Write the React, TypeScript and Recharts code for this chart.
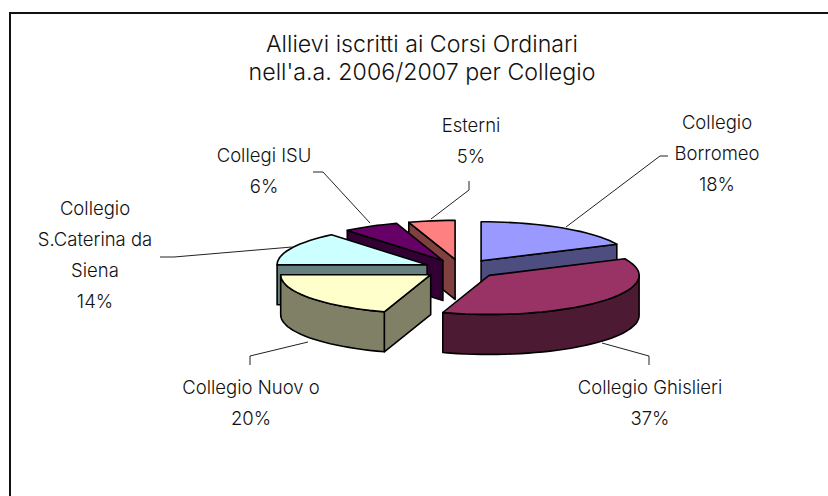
import { PieChart, Pie } from "recharts";

// draw order is back to front, going anticlockwise from Collegio Borromeo
const categories = [
  ["Collegio", "Borromeo"],
  ["Esterni"],
  ["Collegi ISU"],
  ["Collegio", "S.Caterina da", "Siena"],
  ["Collegio Nuov o"],
  ["Collegio Ghislieri"],
];
const shares = [18, 5, 6, 14, 20, 37];
const topColors = ["#9999FF", "#FF8080", "#660066", "#CCFFFF", "#FFFFCC", "#993366"];
const sideColors = ["#4D4D80", "#804040", "#330033", "#668080", "#808066", "#4D1A33"];

const titleLines = ["Allievi iscritti ai Corsi Ordinari", "nell'a.a. 2006/2007 per Collegio"];

const data = categories.map((lines, i) => ({
  name: lines.join(" "),
  value: shares[i],
  lines,
  top: topColors[i],
  side: sideColors[i],
}));

const FONT = "Inter, Lato, sans-serif";

const SQUASH = 0.26;
const DEPTH = 40;
const EXPLODE = 0.25;

// where each label goes and how its leader line runs
const labelLayout = [
  { x: 717, y: 129, leader: "566,227 660,156 668,156" },
  { x: 471, y: 132, leader: "431,219 469,190 469,181" },
  { x: 264, y: 162, leader: "370,223 323,172 313,172" },
  { x: 95, y: 215, leader: "292,247 174,257 160,257" },
  { x: 251, y: 394, leader: "308,342 250,356 250,365" },
  { x: 650, y: 394, leader: "602,343 649,356 649,365" },
];

const toPath = (pts: number[][]) => "M" + pts.map((p) => p[0].toFixed(1) + " " + p[1].toFixed(1)).join("L") + "Z";

function Slice3D(props: any) {
  const { cx, cy, outerRadius, startAngle, endAngle, payload } = props;
  // angles clockwise from north, as the pie is seen from above
  const from = 90 - Math.max(startAngle, endAngle);
  const to = 90 - Math.min(startAngle, endAngle);
  const mid = (from + to) / 2;
  const rad = (d: number) => (d * Math.PI) / 180;
  const ax = cx + EXPLODE * outerRadius * Math.sin(rad(mid));
  const ay = cy - EXPLODE * outerRadius * SQUASH * Math.cos(rad(mid));
  const rim = (d: number) => [
    ax + outerRadius * Math.sin(rad(d)),
    ay - outerRadius * SQUASH * Math.cos(rad(d)),
  ];
  const down = (p: number[]) => [p[0], p[1] + DEPTH];

  const arc = (a: number, b: number) => {
    const n = Math.max(2, Math.ceil(Math.abs(b - a) / 3));
    return Array.from({ length: n + 1 }, (_, i) => rim(a + ((b - a) * i) / n));
  };

  const apex = [ax, ay];
  const walls: number[][][] = [];
  const norm = (d: number) => ((d % 360) + 360) % 360;
  if (Math.sin(rad(from)) < -0.001) {
    const p = rim(from);
    walls.push([apex, p, down(p), down(apex)]);
  }
  if (Math.sin(rad(to)) > 0.001) {
    const p = rim(to);
    walls.push([apex, p, down(p), down(apex)]);
  }
  // outer wall only on the front half of the ellipse
  const f = norm(from);
  const a0 = Math.max(f, 90);
  const a1 = Math.min(f + (to - from), 270);
  if (a1 > a0) {
    const top = arc(a0, a1);
    walls.push([...top, ...top.map(down).reverse()]);
  }

  return (
    <g stroke="#000" strokeWidth={1.6} strokeLinejoin="round">
      {walls.map((w, i) => (
        <path key={i} d={toPath(w)} fill={payload.side} />
      ))}
      <path d={toPath([apex, ...arc(from, to)])} fill={payload.top} />
    </g>
  );
}

function SliceLabel(props: any) {
  const { index, payload, percent } = props;
  const box = labelLayout[index];
  const rows = [...payload.lines, Math.round(percent * 100) + "%"];
  return (
    <g>
      <polyline points={box.leader} fill="none" stroke="#222" strokeWidth={1} />
      <text x={box.x} y={box.y} textAnchor="middle" fontFamily={FONT} fontWeight={300} fontSize={18.5} fill="#111">
        {rows.map((r: string, i: number) => (
          <tspan key={i} x={box.x} y={box.y + i * 31}>
            {r}
          </tspan>
        ))}
      </text>
    </g>
  );
}

export default function App() {
  // the anticlockwise sweep starts where Borromeo ends, so Borromeo still touches north
  const start = 90 - (shares[0] / 100) * 360;

  return (
    <div style={{ position: "absolute", left: 0, top: 0, width: 828, height: 496, background: "#fff", overflow: "hidden" }}>
      <div style={{ position: "absolute", left: 9, top: 12, width: 900, height: 600, border: "2px solid #111", boxSizing: "border-box" }} />
      <div style={{ position: "absolute", left: 0, top: 0 }}>
        <PieChart width={828} height={496} margin={{ top: 0, right: 0, bottom: 0, left: 0 }}>
          <text textAnchor="middle" fontFamily={FONT} fontWeight={300} fontSize={23.2} fill="#111">
            {titleLines.map((t, i) => (
              <tspan key={i} x={422} y={52 + i * 28}>
                {t}
              </tspan>
            ))}
          </text>
          <Pie
            data={data}
            dataKey="value"
            nameKey="name"
            cx={461}
            cy={269}
            outerRadius={150}
            startAngle={start}
            endAngle={start + 360}
            paddingAngle={0}
            shape={Slice3D}
            label={SliceLabel}
            labelLine={false}
            isAnimationActive={false}
          />
        </PieChart>
      </div>
    </div>
  );
}
